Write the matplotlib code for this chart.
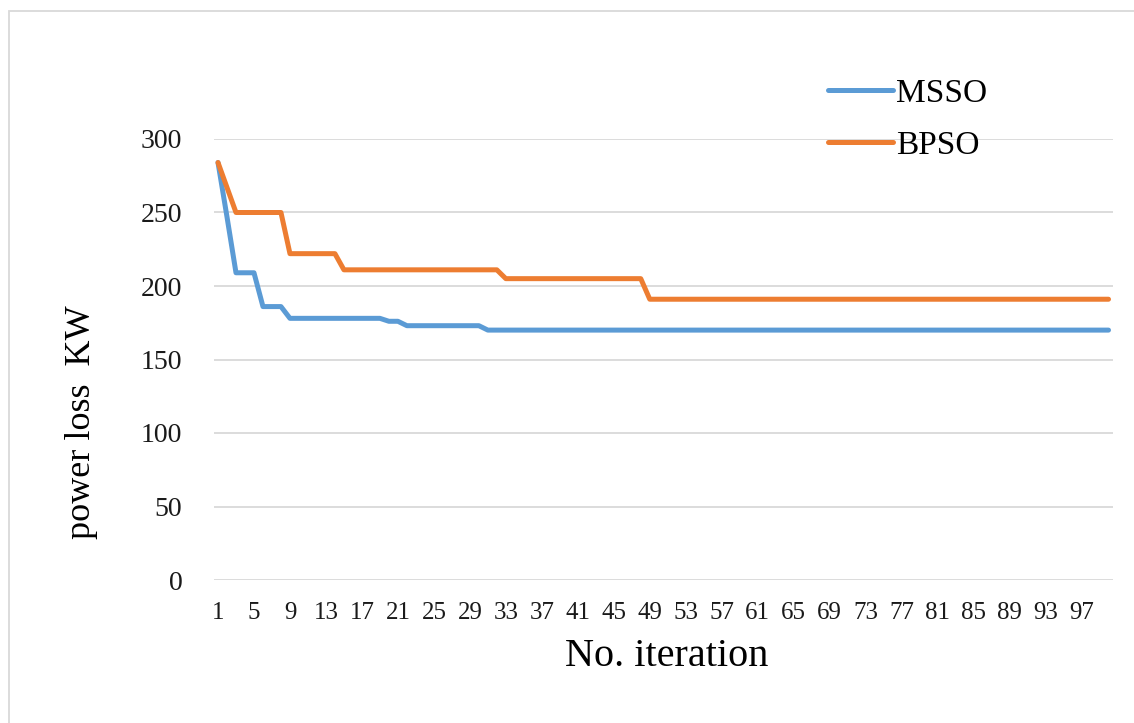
import matplotlib
matplotlib.use("Agg")
import matplotlib.pyplot as plt
from matplotlib.patches import Rectangle

plt.rcParams['font.family'] = ['Liberation Serif', 'DejaVu Serif']

# data
iterations = list(range(1, 101))
msso = [284, 247, 209, 209, 209, 186, 186, 186, 178, 178,
        178, 178, 178, 178, 178, 178, 178, 178, 178, 176,
        176, 173, 173, 173, 173, 173, 173, 173, 173, 173,
        170, 170, 170, 170, 170, 170, 170, 170, 170, 170,
        170, 170, 170, 170, 170, 170, 170, 170, 170, 170,
        170, 170, 170, 170, 170, 170, 170, 170, 170, 170,
        170, 170, 170, 170, 170, 170, 170, 170, 170, 170,
        170, 170, 170, 170, 170, 170, 170, 170, 170, 170,
        170, 170, 170, 170, 170, 170, 170, 170, 170, 170,
        170, 170, 170, 170, 170, 170, 170, 170, 170, 170]
bpso = [284, 267, 250, 250, 250, 250, 250, 250, 222, 222,
        222, 222, 222, 222, 211, 211, 211, 211, 211, 211,
        211, 211, 211, 211, 211, 211, 211, 211, 211, 211,
        211, 211, 205, 205, 205, 205, 205, 205, 205, 205,
        205, 205, 205, 205, 205, 205, 205, 205, 191, 191,
        191, 191, 191, 191, 191, 191, 191, 191, 191, 191,
        191, 191, 191, 191, 191, 191, 191, 191, 191, 191,
        191, 191, 191, 191, 191, 191, 191, 191, 191, 191,
        191, 191, 191, 191, 191, 191, 191, 191, 191, 191,
        191, 191, 191, 191, 191, 191, 191, 191, 191, 191]
y_ticks = [0, 50, 100, 150, 200, 250, 300]
x_ticks = list(range(1, 101, 4))

W, H = 1134, 723
fig = plt.figure(figsize=(W / 100, H / 100), dpi=100)

# chart area border (only left and top edges fall inside the picture)
fig.add_artist(Rectangle((9 / W, -0.1), 1.2, 1.1 - 11 / H, transform=fig.transFigure,
                         fill=False, edgecolor='#D9D9D9', linewidth=1.3))

ax = fig.add_axes([213.5 / W, 1 - 580 / H, (1113 - 213.5) / W, (580 - 139) / H])

ax.plot(iterations, msso, color='#5B9BD5', linewidth=3.6, label='MSSO',
        solid_joinstyle='round', solid_capstyle='round', zorder=3)
ax.plot(iterations, bpso, color='#ED7D31', linewidth=3.6, label='BPSO',
        solid_joinstyle='round', solid_capstyle='round', zorder=3)

ax.set_xlim(0.5, 100.5)
ax.set_ylim(0, 300)
ax.set_yticks(y_ticks)
ax.set_xticks(x_ticks)
ax.set_xticklabels([str(t) for t in x_ticks], fontsize=18)
ax.set_yticklabels([str(t) for t in y_ticks], fontsize=20)
ax.tick_params(axis='both', length=0, colors='#1a1a1a')
ax.tick_params(axis='y', pad=22.5)
ax.tick_params(axis='x', pad=16)
ax.grid(axis='y', color='#D9D9D9', linewidth=1.3)
ax.set_axisbelow(True)
for s in ax.spines.values():
    s.set_visible(False)

fig.text(667 / W, 1 - 657 / H, 'No. iteration', fontsize=29, ha='center', va='center')
fig.text(82 / W, 1 - 422 / H, 'power loss  KW', fontsize=26, rotation=90,
         ha='center', va='center')

fig.legend(loc='upper left', bbox_to_anchor=(828 / W, 1 - 78 / H), frameon=False,
           fontsize=24, handlelength=1.95, handletextpad=0.1, labelspacing=0.65,
           borderpad=0, borderaxespad=0)

fig.savefig('out.png', dpi=100, facecolor='white')
